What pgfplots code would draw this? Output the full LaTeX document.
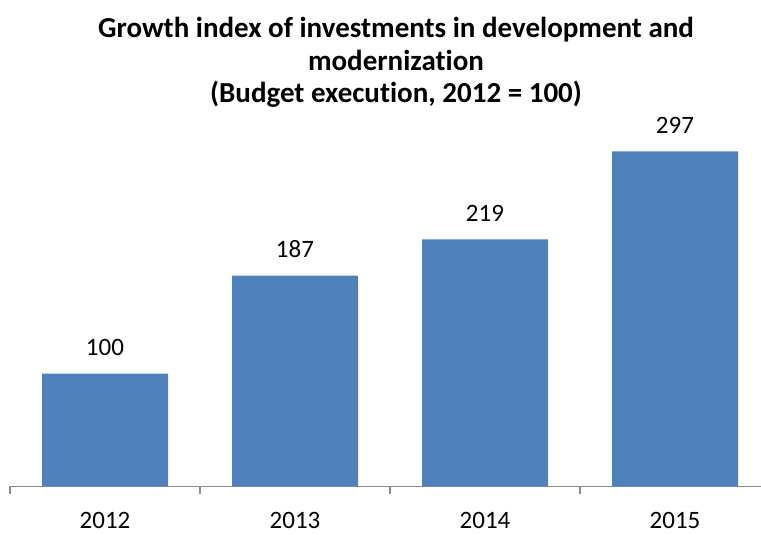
\documentclass[border=0pt]{standalone}
\usepackage{fontspec}
\setmainfont{Carlito}[Ligatures={NoCommon}]
\usepackage{pgfplots}
\pgfplotsset{compat=1.18}
\definecolor{barblue}{HTML}{4F81BD}
\definecolor{axgray}{HTML}{8C8C8C}
\begin{document}
\begin{tikzpicture}[x=1pt,y=1pt]
\path[use as bounding box] (0,0) rectangle (761,535);
\begin{axis}[
  at={(10pt,48.5pt)}, anchor=south west,
  scale only axis, width=760pt, height=372.24pt,
  ymin=0, ymax=330, xmin=-0.5, xmax=3.5,
  ybar, bar width=126pt,
  /pgf/number format/assume math mode=true,
  axis x line*=bottom, axis y line=none,
  x axis line style={axgray, line width=1.2pt},
  xtick=data, xticklabels={2012,2013,2014,2015}, major tick length=0pt,
  extra x ticks={-0.5,0.5,1.5,2.5}, extra x tick labels={},
  extra x tick style={major tick length=8pt, tick align=outside, tick style={axgray, line width=1.2pt}},
  xticklabel style={font=\fontsize{25}{30}\selectfont, anchor=base, inner sep=0pt, yshift=-42pt},
  nodes near coords,
  nodes near coords style={font=\fontsize{25}{30}\selectfont, anchor=base, inner sep=0pt, yshift=18pt},
  clip=false,
  title={Growth index of investments in development and\\modernization\\(Budget execution, 2012 = 100)},
  title style={font=\bfseries\fontsize{29}{32.5}\selectfont, align=center, anchor=north, inner sep=0pt,
    at={(rel axis cs:0.5,1)}, yshift=91pt, xshift=6pt},
]
\addplot[fill=barblue, draw=none] coordinates {(0,100) (1,187) (2,219) (3,297)};
\end{axis}
\end{tikzpicture}
\end{document}
